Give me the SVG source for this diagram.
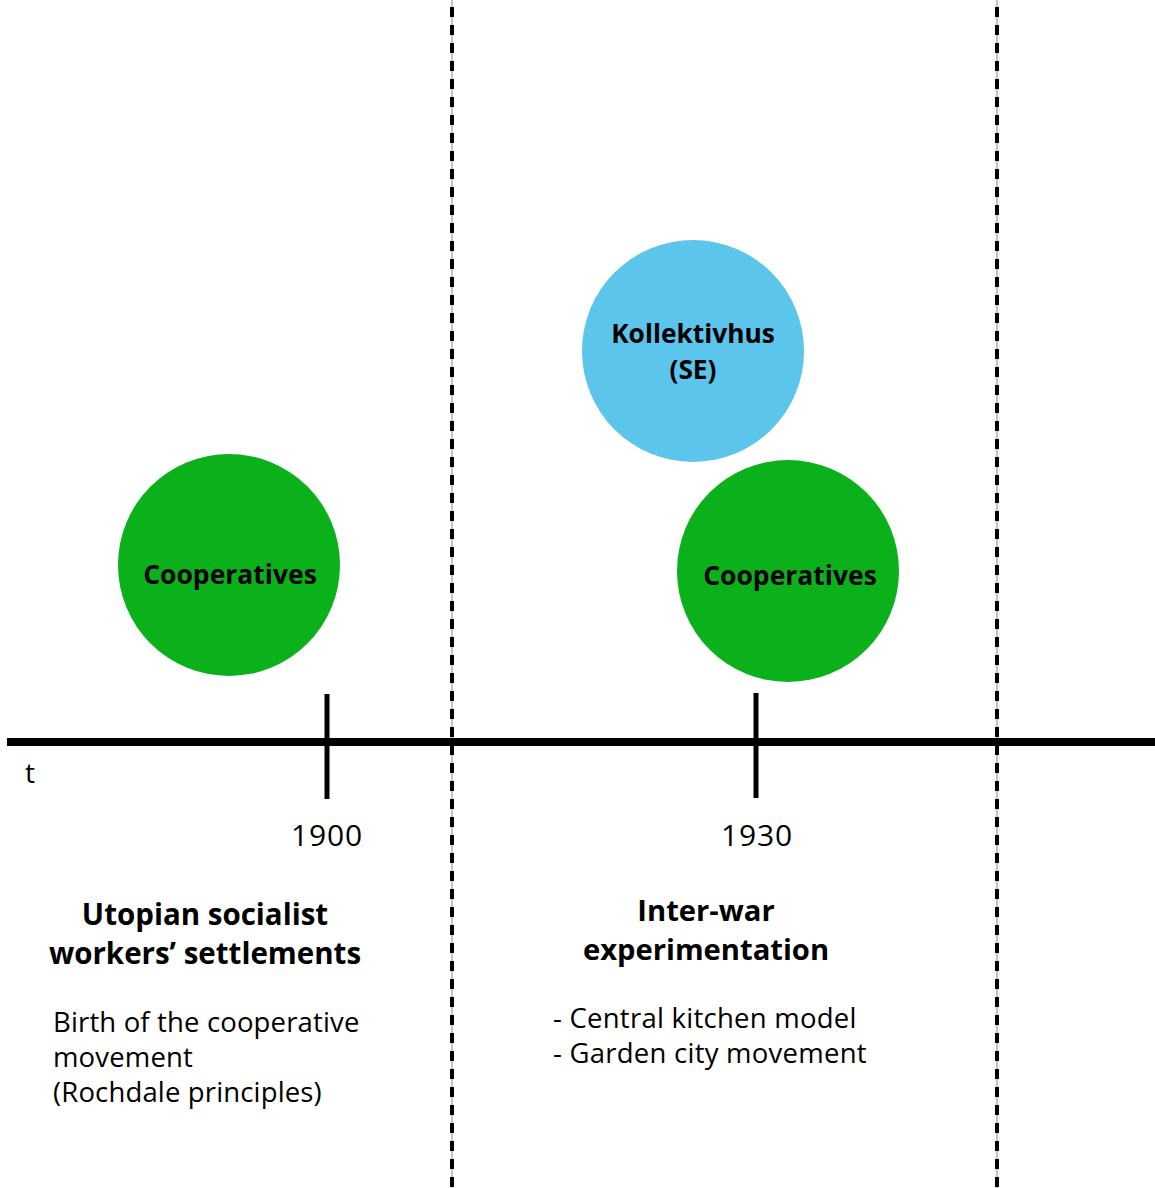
<svg xmlns="http://www.w3.org/2000/svg" width="1155" height="1188" viewBox="0 0 1155 1188">
<style>
.t{font-family:"Open Sans","Liberation Sans",sans-serif;fill:#000}
.b{font-weight:700}
.c{text-anchor:middle}
.guide{stroke:#888;stroke-width:1}
.dash{stroke:#000;stroke-width:4;stroke-dasharray:10 8}
.tick{stroke:#000;stroke-width:5}
</style>
<rect width="1155" height="1188" fill="#fff"/>
<g id="connectors">
<line x1="452" y1="0" x2="452" y2="1188" class="guide"/>
<line x1="452" y1="7" x2="452" y2="1188" class="dash"/>
<line x1="997" y1="0" x2="997" y2="1188" class="guide"/>
<line x1="997" y1="7" x2="997" y2="1188" class="dash"/>
<line x1="7" y1="742" x2="1155" y2="742" stroke="#000" stroke-width="8"/>
<line x1="327" y1="694" x2="327" y2="799" class="tick"/>
<line x1="756" y1="693" x2="756" y2="798" class="tick"/>
</g>
<g id="node-coop1">
<circle cx="229" cy="565" r="111" fill="#0AB11A"/>
<text x="230" y="584" class="t b c" font-size="26.5">Cooperatives</text>
</g>
<g id="node-kollektivhus">
<circle cx="693" cy="351" r="111" fill="#5BC5EC"/>
<text x="693" y="343" class="t b c" font-size="26.3">Kollektivhus</text>
<text x="693" y="379" class="t b c" font-size="26.3">(SE)</text>
</g>
<g id="node-coop2">
<circle cx="788" cy="571" r="111" fill="#0AB11A"/>
<text x="790" y="585" class="t b c" font-size="26.5">Cooperatives</text>
</g>
<g id="labels">
<text x="25" y="783" class="t" font-size="28">t</text>
<text x="327" y="846" class="t c" font-size="30" letter-spacing="0.8">1900</text>
<text x="757" y="846" class="t c" font-size="30" letter-spacing="0.8">1930</text>
<text x="205" y="925" class="t b c" font-size="29.5">Utopian socialist</text>
<text x="205" y="964" class="t b c" font-size="29.5">workers’ settlements</text>
<text x="53" y="1032" class="t" font-size="27.5" letter-spacing="0.15">Birth of the cooperative</text>
<text x="53" y="1067" class="t" font-size="27.5" letter-spacing="0.15">movement</text>
<text x="53" y="1102" class="t" font-size="27.5" letter-spacing="0.15">(Rochdale principles)</text>
<text x="706" y="921" class="t b c" font-size="29.2">Inter-war</text>
<text x="706" y="960" class="t b c" font-size="29.2">experimentation</text>
<text x="553" y="1028" class="t" font-size="27.5" letter-spacing="0.25">- Central kitchen model</text>
<text x="553" y="1063" class="t" font-size="27.5" letter-spacing="0.25">- Garden city movement</text>
</g>
</svg>
